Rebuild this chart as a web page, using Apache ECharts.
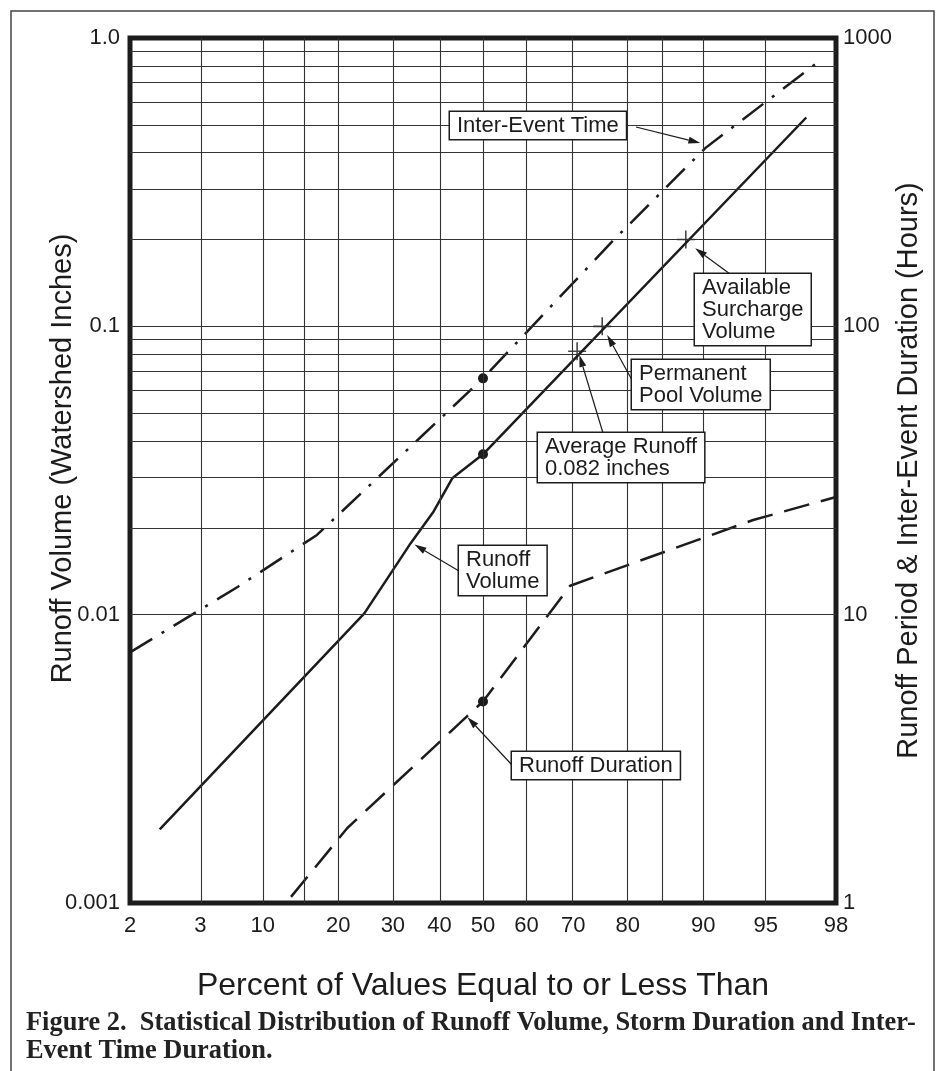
<!DOCTYPE html>
<html>
<head>
<meta charset="utf-8">
<script src="https://cdn.jsdelivr.net/npm/echarts@6/dist/echarts.min.js"></script>
<style>
  html, body { margin: 0; padding: 0; background: #fff; }
  #chart { width: 936px; height: 1071px; }
</style>
</head>
<body>
<div id="chart"></div>
<script>
  // x axis: percent of values equal to or less than (normal probability scale)
  var xLabelPct = [2, 5, 10, 20, 30, 40, 50, 60, 70, 80, 90, 95, 98]
  var xLabelText = ['2', '3', '10', '20', '30', '40', '50', '60', '70', '80', '90', '95', '98']
  var xGridPct = [5, 10, 15, 20, 30, 40, 50, 60, 70, 80, 85, 90, 95]
  // y axis log grid (left axis, inches)
  var yDecades = [0.001, 0.01, 0.1]
  var yGridMult = [1, 2, 3, 4, 5, 6, 7, 8, 9]

  // runoff volume (watershed inches) - left axis
  var volumePct = [3, 24.5, 33.7, 38.7, 42.9, 50, 97]
  var volumeIn = [0.0018, 0.0101, 0.0177, 0.0228, 0.0297, 0.036, 0.53]
  // inter-event time (hours) - right axis
  var interPct = [2, 7.7, 16.7, 50, 77.4, 90.2, 97.6]
  var interHr = [7.4, 12.5, 18.9, 66, 197, 415, 850]
  // runoff duration (hours) - right axis
  var durPct = [13.2, 21.5, 50, 69.4, 94.2, 98]
  var durHr = [1.05, 1.82, 5.0, 12.6, 21.3, 25.6]
  // marked volumes on the runoff volume line
  var markPct = [70.8, 75.6, 88.1]
  var markIn = [0.082, 0.1, 0.2]

  // inverse normal cdf (Acklam), used as the x axis transform
  function probit (p) {
    var a = [-3.969683028665376e+01, 2.209460984245205e+02, -2.759285104469687e+02, 1.383577518672690e+02, -3.066479806614716e+01, 2.506628277459239e+00]
    var b = [-5.447609879822406e+01, 1.615858368580409e+02, -1.556989798598866e+02, 6.680131188771972e+01, -1.328068155288572e+01]
    var c = [-7.784894002430293e-03, -3.223964580411365e-01, -2.400758277161838e+00, -2.549732539343734e+00, 4.374664141464968e+00, 2.938163982698783e+00]
    var d = [7.784695709041462e-03, 3.224671290700398e-01, 2.445134137142996e+00, 3.754408661907416e+00]
    var pl = 0.02425, q, r
    if (p < pl) {
      q = Math.sqrt(-2 * Math.log(p))
      return (((((c[0] * q + c[1]) * q + c[2]) * q + c[3]) * q + c[4]) * q + c[5]) / ((((d[0] * q + d[1]) * q + d[2]) * q + d[3]) * q + 1)
    }
    if (p <= 1 - pl) {
      q = p - 0.5; r = q * q
      return (((((a[0] * r + a[1]) * r + a[2]) * r + a[3]) * r + a[4]) * r + a[5]) * q / (((((b[0] * r + b[1]) * r + b[2]) * r + b[3]) * r + b[4]) * r + 1)
    }
    q = Math.sqrt(-2 * Math.log(1 - p))
    return -(((((c[0] * q + c[1]) * q + c[2]) * q + c[3]) * q + c[4]) * q + c[5]) / ((((d[0] * q + d[1]) * q + d[2]) * q + d[3]) * q + 1)
  }
  function zOf (pct) { return probit(pct / 100) }
  function pairs (pcts, vals, dotPct) {
    return pcts.map(function (p, i) {
      var item = { value: [zOf(p), vals[i]] }
      if (p === dotPct) { item.symbol = 'circle'; item.symbolSize = 10 }
      return item
    })
  }

  var ink = '#1c1c1c'
  var sans = '"Liberation Sans", Arial, sans-serif'
  var xMin = zOf(2), xMax = zOf(98)

  var gridValues = []
  yDecades.forEach(function (d) {
    yGridMult.forEach(function (m) { gridValues.push(+(d * m).toPrecision(3)) })
  })

  var chart = echarts.init(document.getElementById('chart'))
  chart.setOption({
    animation: false,
    backgroundColor: '#fff',
    textStyle: { fontFamily: sans, color: ink },
    grid: {
      left: 130, right: 100, top: 38, bottom: 168,
      show: true, borderColor: ink, borderWidth: 5, backgroundColor: 'transparent'
    },
    xAxis: {
      type: 'value',
      min: xMin,
      max: xMax,
      name: 'Percent of Values Equal to or Less Than',
      nameLocation: 'middle',
      nameGap: 67,
      nameMoveOverlap: false,
      nameTextStyle: { fontSize: 32, color: ink, fontFamily: sans },
      axisLine: { show: false },
      axisTick: { show: false },
      splitLine: { show: false },
      axisLabel: {
        customValues: xLabelPct.map(zOf),
        fontSize: 22,
        color: ink,
        margin: 12,
        formatter: function (val) {
          for (var i = 0; i < xLabelPct.length; i++) {
            if (Math.abs(zOf(xLabelPct[i]) - val) < 1e-6) return xLabelText[i]
          }
          return ''
        }
      }
    },
    yAxis: [{
      type: 'log',
      logBase: 10,
      min: 0.001,
      max: 1,
      position: 'left',
      name: 'Runoff Volume (Watershed Inches)',
      nameLocation: 'middle',
      nameRotate: 90,
      nameGap: 53,
      nameMoveOverlap: false,
      nameTextStyle: { fontSize: 29, color: ink, fontFamily: sans, padding: [0, 0, 0, 24] },
      axisLine: { show: false },
      axisTick: { show: false },
      splitLine: { show: false },
      axisLabel: {
        fontSize: 22,
        color: ink,
        margin: 10,
        formatter: function (v) {
          var s = +(+v).toPrecision(3)
          return s === 1 ? '1.0' : String(s)
        }
      }
    }, {
      type: 'log',
      logBase: 10,
      min: 1,
      max: 1000,
      position: 'right',
      name: 'Runoff Period & Inter-Event Duration (Hours)',
      nameLocation: 'middle',
      nameRotate: 90,
      nameGap: 58,
      nameMoveOverlap: false,
      nameTextStyle: { fontSize: 29, color: ink, fontFamily: sans },
      axisLine: { show: false },
      axisTick: { show: false },
      splitLine: { show: false },
      axisLabel: {
        fontSize: 22,
        color: ink,
        margin: 7,
        formatter: function (v) { return String(Math.round(v)) }
      }
    }],
    series: [
      {
        // paper grid
        name: 'grid',
        type: 'line',
        yAxisIndex: 0,
        data: [],
        silent: true,
        z: 1,
        markLine: {
          silent: true,
          symbol: ['none', 'none'],
          label: { show: false },
          emphasis: { disabled: true },
          lineStyle: { color: '#333', width: 1.1, type: 'solid' },
          data: xGridPct.map(function (p) { return { xAxis: zOf(p) } })
            .concat(gridValues.map(function (v) { return { yAxis: v } }))
        }
      },
      {
        name: 'Runoff Volume',
        type: 'line',
        yAxisIndex: 0,
        z: 3,
        symbol: 'none',
        data: pairs(volumePct, volumeIn, 50),
        itemStyle: { color: ink },
        lineStyle: { color: ink, width: 2.5 }
      },
      {
        name: 'Inter-Event Time',
        type: 'line',
        yAxisIndex: 1,
        z: 3,
        symbol: 'none',
        data: pairs(interPct, interHr, 50),
        itemStyle: { color: ink },
        lineStyle: { color: ink, width: 2.5, type: [26, 11, 3, 11] }
      },
      {
        name: 'Runoff Duration',
        type: 'line',
        yAxisIndex: 1,
        z: 3,
        symbol: 'none',
        data: pairs(durPct, durHr, 50),
        itemStyle: { color: ink },
        lineStyle: { color: ink, width: 2.5, type: [26, 12] }
      },
      {
        name: 'marks',
        type: 'scatter',
        yAxisIndex: 0,
        z: 4,
        symbol: 'path://M10 0 L10 20 M0 10 L20 10',
        symbolSize: 18,
        itemStyle: { color: 'none', borderColor: ink, borderWidth: 1.6 },
        data: markPct.map(function (p, i) { return [zOf(p), markIn[i]] })
      }
    ]
  })

  // call-out boxes with leader arrows; tip is given in data units
  var notes = [
    { text: 'Inter-Event Time', box: [450, 112], from: [636, 127], tip: [89.7, 432], axis: 1 },
    { text: 'Runoff\nVolume', box: [459, 546], from: [459, 571], tip: [34.5, 0.0175], axis: 0 },
    { text: 'Available\nSurcharge\nVolume', box: [695, 274], from: [730, 274], tip: [89.15, 0.1865], axis: 0 },
    { text: 'Permanent\nPool Volume', box: [632, 360], from: [632, 380], tip: [76.5, 0.0933], axis: 0 },
    { text: 'Average Runoff\n0.082 inches', box: [538, 433], from: [603, 433], tip: [71.25, 0.0795], axis: 0 },
    { text: 'Runoff Duration', box: [512, 752], from: [512, 765], tip: [46.4, 4.41], axis: 1 }
  ]

  var elements = [
    {
      type: 'rect',
      shape: { x: 11, y: 11, width: 923, height: 1075 },
      style: { fill: 'none', stroke: '#444', lineWidth: 1.5 },
      z: 0
    },
    {
      type: 'text',
      x: 26,
      y: 1009,
      style: {
        text: 'Figure 2.  Statistical Distribution of Runoff Volume, Storm Duration and Inter-\nEvent Time Duration.',
        font: 'bold 26.4px "Liberation Serif", "Times New Roman", serif',
        fill: '#222',
        lineHeight: 28,
        align: 'left',
        verticalAlign: 'top'
      }
    }
  ]

  notes.forEach(function (n) {
    var t = chart.convertToPixel({ xAxisIndex: 0, yAxisIndex: n.axis }, [zOf(n.tip[0]), n.tip[1]])
    var dx = t[0] - n.from[0], dy = t[1] - n.from[1]
    var len = Math.sqrt(dx * dx + dy * dy)
    var ux = dx / len, uy = dy / len
    var bx = t[0] - ux * 12, by = t[1] - uy * 12
    elements.push({
      type: 'line',
      z: 50,
      shape: { x1: n.from[0], y1: n.from[1], x2: bx, y2: by },
      style: { stroke: ink, lineWidth: 1.2 }
    })
    elements.push({
      type: 'polygon',
      z: 50,
      shape: { points: [[t[0], t[1]], [bx - uy * 3.5, by + ux * 3.5], [bx + uy * 3.5, by - ux * 3.5]] },
      style: { fill: ink }
    })
    elements.push({
      type: 'text',
      z: 60,
      x: n.box[0],
      y: n.box[1],
      style: {
        text: n.text,
        font: '22px ' + sans,
        fill: ink,
        lineHeight: 22,
        padding: [3, 7, 2, 7],
        backgroundColor: '#fff',
        borderColor: ink,
        borderWidth: 1.5,
        align: 'left',
        verticalAlign: 'top'
      }
    })
  })

  chart.setOption({ graphic: { elements: elements } })
</script>
</body>
</html>
